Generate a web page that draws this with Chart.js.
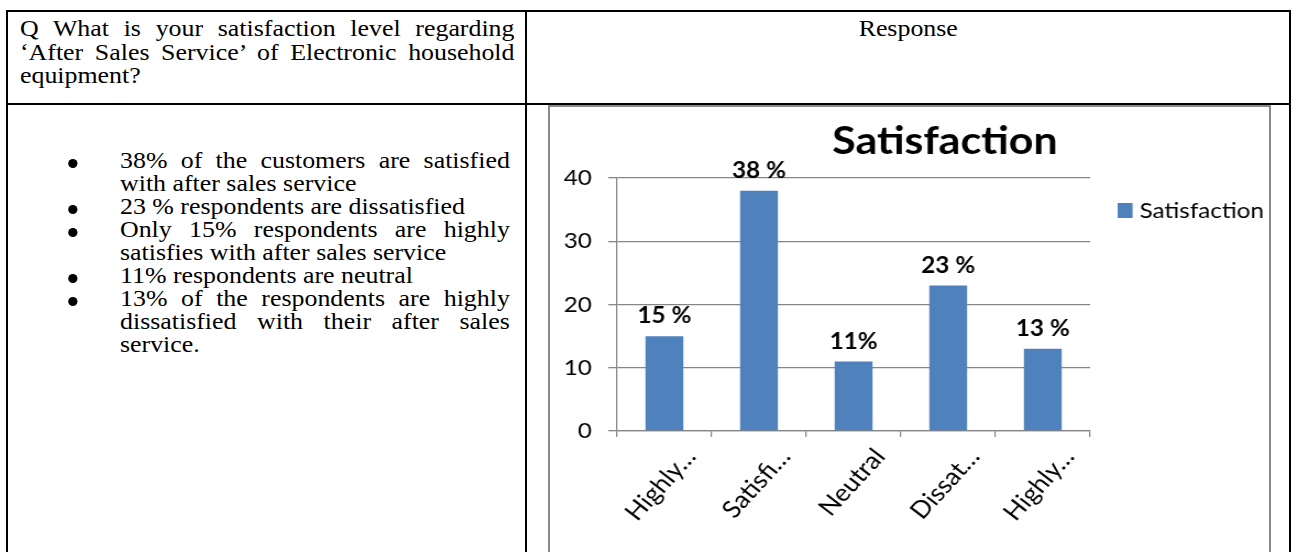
<!DOCTYPE html>
<html>
<head>
<meta charset="utf-8">
<script src="https://cdn.jsdelivr.net/npm/chart.js@4.4.1/dist/chart.umd.min.js"></script>
<style>
    body {
        margin: 0;
        width: 1296px;
        height: 552px;
        overflow: hidden;
        background: #fff;
        position: relative;
        font-family: "Liberation Serif", "Times New Roman", serif;
        color: #000;
    }
    .rule { position: absolute; background: #000; }
    /* the sheet is drawn a little wide, so text blocks are stretched */
    .wide { position: absolute; transform: scaleX(1.15); transform-origin: 0 0; }
    .line { display: block; white-space: nowrap; }
    .j { text-align: justify; text-align-last: justify; }
    .question {
        left: 20px;
        top: 17px;
        width: 430px;
        font-size: 22.5px;
        line-height: 23.5px;
    }
    .response {
        left: 527px;
        top: 17px;
        width: 663px;
        font-size: 22.5px;
        line-height: 23.5px;
        text-align: center;
    }
    ul.points {
        left: 120px;
        top: 149px;
        width: 339px;
        margin: 0;
        padding: 0;
        list-style: none;
        font-size: 22.5px;
        line-height: 23px;
    }
    ul.points li { position: relative; }
    ul.points li::before {
        content: "";
        position: absolute;
        left: -45.5px;
        top: 10px;
        width: 8px;
        height: 9px;
        border-radius: 50%;
        background: #000;
    }
    .frame {
        position: absolute;
        left: 548px;
        top: 105px;
        width: 719px;
        height: 470px;
        border: 2px solid #8a8a8a;
    }
    #satChart {
        position: absolute;
        left: 550px;
        top: 107px;
        transform: scaleX(1.1);
        transform-origin: 0 0;
    }
</style>
</head>
<body>
<div class="rule" style="left:6px; top:10px; width:1285px; height:2px;"></div>
<div class="rule" style="left:6px; top:10px; width:2px; height:542px;"></div>
<div class="rule" style="left:1289px; top:10px; width:2px; height:542px;"></div>
<div class="rule" style="left:525px; top:10px; width:2px; height:542px;"></div>
<div class="rule" style="left:6px; top:103px; width:1285px; height:2px;"></div>

<div class="wide question">
    <span class="line j">Q What is your satisfaction level regarding</span>
    <span class="line j">‘After Sales Service’ of Electronic household</span>
    <span class="line">equipment?</span>
</div>
<div class="wide response">Response</div>

<ul class="wide points">
    <li><span class="line j">38% of the customers are satisfied</span><span class="line">with after sales service</span></li>
    <li><span class="line">23 % respondents are dissatisfied</span></li>
    <li><span class="line j">Only 15% respondents are highly</span><span class="line">satisfies with after sales service</span></li>
    <li><span class="line">11% respondents are neutral</span></li>
    <li><span class="line j">13% of the respondents are highly</span><span class="line j">dissatisfied with their after sales</span><span class="line">service.</span></li>
</ul>

<div class="frame"></div>
<canvas id="satChart" width="654" height="444"></canvas>

<script>
const categories = ["Highly…", "Satisfi…", "Neutral", "Dissat…", "Highly…"];
const satisfaction = [15, 38, 11, 23, 13];
const valueLabels = ["15 %", "38 %", "11%", "23 %", "13 %"];
const yTicks = [0, 10, 20, 30, 40];
const seriesName = "Satisfaction";
const chartTitleText = "Satisfaction";

const barColor = "#4F81BD";
const gridColor = "#868686";

Chart.defaults.font.family = "Lato";
Chart.defaults.color = "#000";

// bold numbers sitting above each bar
const barValueLabels = {
    id: "barValueLabels",
    afterDatasetsDraw(chart) {
        const ctx = chart.ctx;
        const meta = chart.getDatasetMeta(0);
        ctx.save();
        ctx.font = "bold 22px Lato";
        ctx.fillStyle = "#000";
        ctx.textAlign = "center";
        ctx.textBaseline = "middle";
        meta.data.forEach((bar, i) => {
            ctx.fillText(valueLabels[i], bar.x, bar.y - 20);
        });
        ctx.restore();
    }
};

// title and the single legend entry on the right
const titleAndLegend = {
    id: "titleAndLegend",
    afterDraw(chart) {
        const ctx = chart.ctx;
        const area = chart.chartArea;
        ctx.save();
        ctx.fillStyle = "#000";
        ctx.font = "bold 39px Lato";
        ctx.textAlign = "center";
        ctx.textBaseline = "alphabetic";
        ctx.fillText(chartTitleText, area.right - 132, area.top - 24);

        const ds = chart.data.datasets[0];
        const lx = area.right + 25;
        const ly = area.top + 33;
        ctx.fillStyle = ds.backgroundColor;
        ctx.fillRect(lx, ly - 8, 13.6, 15);
        ctx.fillStyle = "#000";
        ctx.font = "22px Lato";
        ctx.textAlign = "left";
        ctx.textBaseline = "middle";
        ctx.fillText(ds.label, lx + 20, ly);
        ctx.restore();
    }
};

new Chart(document.getElementById("satChart"), {
    type: "bar",
    data: {
        labels: categories,
        datasets: [{
            label: seriesName,
            data: satisfaction,
            backgroundColor: barColor,
            borderWidth: 0,
            barPercentage: 0.4,
            categoryPercentage: 1
        }]
    },
    options: {
        responsive: false,
        animation: false,
        devicePixelRatio: 1,
        layout: {
            padding: { top: 71, right: 163, bottom: 0, left: 0 }
        },
        plugins: {
            legend: { display: false },
            title: { display: false },
            tooltip: { enabled: false }
        },
        scales: {
            x: {
                offset: true,
                afterFit(scale) { scale.height = 120; },
                grid: {
                    offset: true,
                    drawOnChartArea: false,
                    drawTicks: true,
                    tickLength: 6,
                    color: gridColor,
                    lineWidth: 1.2
                },
                border: { color: gridColor, width: 1.2 },
                ticks: {
                    autoSkip: false,
                    minRotation: 50,
                    maxRotation: 50,
                    padding: 6,
                    labelOffset: 24,
                    font: { size: 24 }
                }
            },
            y: {
                min: yTicks[0],
                max: yTicks[yTicks.length - 1],
                afterFit(scale) { scale.width = 61; },
                grid: {
                    color: gridColor,
                    lineWidth: 1.3,
                    tickLength: 8
                },
                border: { color: gridColor, width: 1.2 },
                ticks: {
                    stepSize: yTicks[1] - yTicks[0],
                    padding: 15,
                    font: { size: 22 }
                }
            }
        }
    },
    plugins: [barValueLabels, titleAndLegend]
});
</script>
</body>
</html>
